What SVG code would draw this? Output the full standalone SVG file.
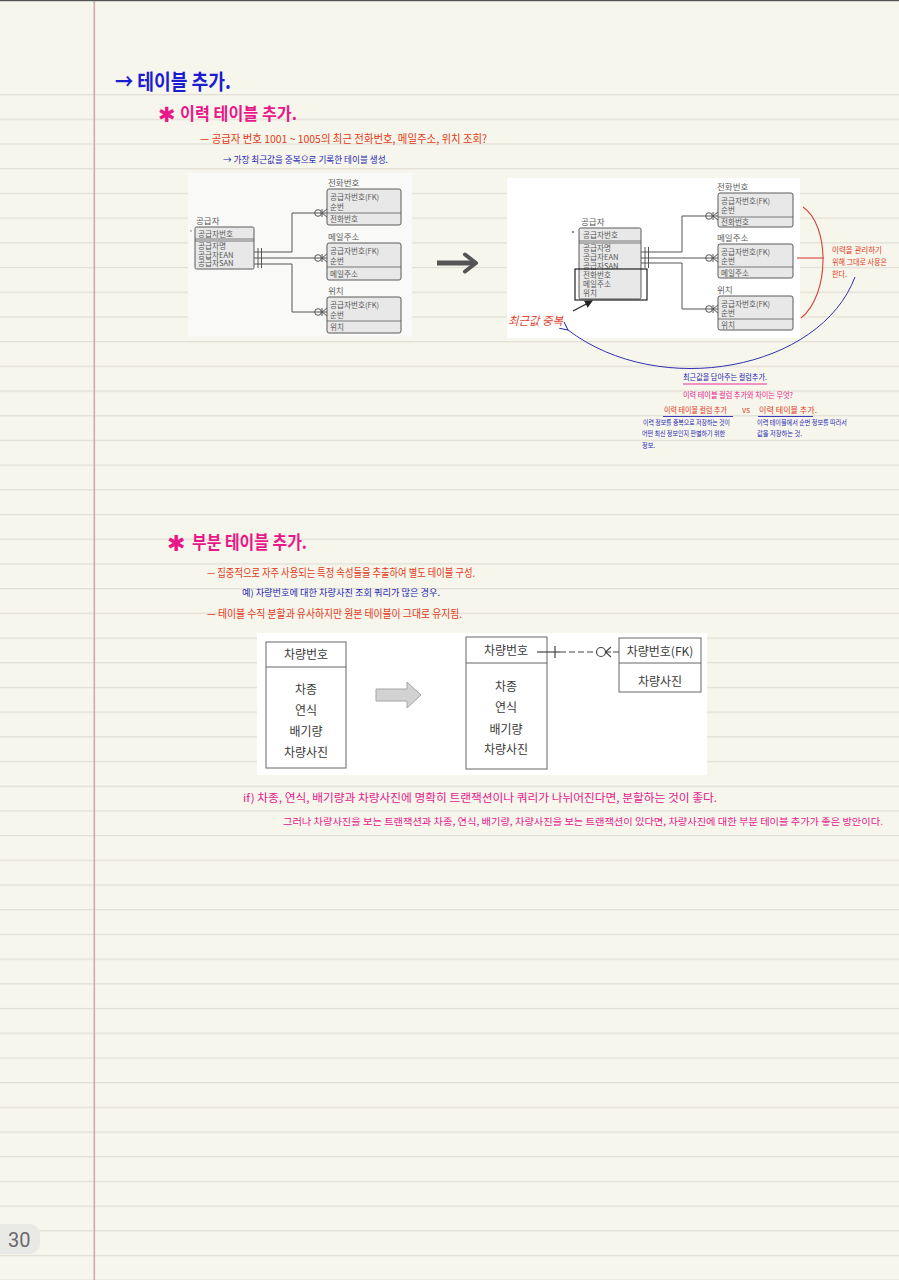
<svg xmlns="http://www.w3.org/2000/svg" xmlns:xlink="http://www.w3.org/1999/xlink" width="899" height="1280" viewBox="0 0 899 1280">
<style>
.hw{font-family:"Noto Sans CJK KR","Noto Sans",sans-serif;}
.hb{fill:#1c1cd2;font-weight:700;}
.hm{fill:#e8188a;font-weight:700;}
.red{fill:#e23a20;}
.blu{fill:#2626b4;}
.pnk{fill:#e4208c;}
.er{font-family:"Noto Sans CJK KR","Liberation Sans",sans-serif;font-size:8.5px;fill:#5a5a5a;}
.ea{font-size:7.6px;}
.erbox{fill:#e8e8e8;stroke:#5a5a5a;stroke-width:1;}
.erl{fill:none;stroke:#555;stroke-width:1;}
.vt{font-family:"Noto Sans CJK KR","Liberation Sans",sans-serif;font-size:12px;fill:#3a3a3a;text-anchor:middle;}
.vbox{fill:#fff;stroke:#666;stroke-width:1;}
.ast{font-family:"DejaVu Sans",sans-serif;fill:#e8188a;font-weight:700;}
</style>
<defs>
<pattern id="rules" x="0" y="94" width="899" height="24.7" patternUnits="userSpaceOnUse">
<rect x="0" y="0" width="899" height="1.3" fill="#e2e0d6"/>
</pattern>
<g id="cf" fill="none" stroke="#555" stroke-width="1">
<circle cx="-9" cy="0" r="3.3"/>
<path d="M-5,-4 V4 M-5,0 L0,-4 M-5,0 L0,4"/>
</g>
<marker id="barr" markerWidth="10" markerHeight="10" refX="1" refY="5" orient="auto-start-reverse" markerUnits="userSpaceOnUse">
<path d="M9,1 L1,5 L9,9" fill="none" stroke="#3030b0" stroke-width="1"/>
</marker>
<marker id="karr" markerWidth="8" markerHeight="8" refX="7" refY="4" orient="auto" markerUnits="userSpaceOnUse">
<path d="M0,0 L8,4 L0,8 z" fill="#222"/>
</marker>
</defs>

<!-- page -->
<rect width="899" height="1280" fill="#f7f6ec"/>
<rect x="0" y="90" width="899" height="1190" fill="url(#rules)"/>
<rect x="93.5" y="0" width="1.6" height="1280" fill="#d6a8aa"/>
<rect x="0" y="0" width="899" height="1.2" fill="#555"/>

<!-- section 1 headings -->
<g id="heading1">
<text class="hw hb" x="115" y="89" font-size="21" textLength="116" lengthAdjust="spacingAndGlyphs">→ 테이블 추가.</text>
</g>
<g id="heading-history">
<text class="ast" x="158" y="122" font-size="21">✱</text>
<text class="hw hm" x="180" y="120" font-size="17" textLength="117" lengthAdjust="spacingAndGlyphs">이력 테이블 추가.</text>
<text class="hw red" x="200" y="143" font-size="11" textLength="287" lengthAdjust="spacingAndGlyphs">— 공급자 번호 1001 ~ 1005의 최근 전화번호, 메일주소, 위치 조회?</text>
<text class="hw blu" x="223" y="163" font-size="9" textLength="165" lengthAdjust="spacingAndGlyphs">→ 가장 최근값을 중복으로 기록한 테이블 생성.</text>
</g>

<!-- left ER diagram -->
<g id="er-left">
<rect x="188" y="173" width="224" height="164" fill="#f9f9f8"/>
<circle cx="191" cy="231" r="0.8" fill="#777"/>
<g id="supplier-left">
<text class="er" x="196" y="224" font-size="9">공급자</text>
<rect class="erbox" x="195" y="227" width="59" height="42" rx="1.5"/>
<path d="M195,239 H254 M195,241 H254" stroke="#5a5a5a" stroke-width="0.8"/>
<text class="er ea" x="198" y="237">공급자번호</text>
<text class="er ea" x="198" y="249">공급자명</text>
<text class="er ea" x="198" y="257.5">공급자EAN</text>
<text class="er ea" x="198" y="266">공급자SAN</text>
</g>
<g id="phone-left">
<text class="er" x="328" y="186" font-size="9">전화번호</text>
<rect class="erbox" x="327" y="189" width="74" height="36" rx="2"/>
<path d="M327,213 H401" stroke="#5a5a5a" stroke-width="0.8"/>
<text class="er ea" x="330" y="200">공급자번호(FK)</text>
<text class="er ea" x="330" y="210">순번</text>
<text class="er ea" x="330" y="222">전화번호</text>
</g>
<g id="mail-left">
<text class="er" x="328" y="240" font-size="9">메일주소</text>
<rect class="erbox" x="327" y="243" width="74" height="37" rx="2"/>
<path d="M327,267 H401" stroke="#5a5a5a" stroke-width="0.8"/>
<text class="er ea" x="330" y="254">공급자번호(FK)</text>
<text class="er ea" x="330" y="264">순번</text>
<text class="er ea" x="330" y="277">메일주소</text>
</g>
<g id="loc-left">
<text class="er" x="328" y="294" font-size="9">위치</text>
<rect class="erbox" x="327" y="297" width="74" height="36" rx="2"/>
<path d="M327,321 H401" stroke="#5a5a5a" stroke-width="0.8"/>
<text class="er ea" x="330" y="308">공급자번호(FK)</text>
<text class="er ea" x="330" y="318">순번</text>
<text class="er ea" x="330" y="330">위치</text>
</g>
</g>

<!-- right ER diagram -->
<g id="er-right">
<rect x="507" y="178" width="293" height="160" fill="#ffffff"/>
<circle cx="573" cy="232" r="0.9" fill="#555"/>
<g id="supplier-right">
<text class="er" x="581" y="225" font-size="9">공급자</text>
<rect class="erbox" x="579" y="228" width="62" height="71" rx="1.5"/>
<path d="M579,241 H641 M579,243 H641" stroke="#5a5a5a" stroke-width="0.8"/>
<text class="er ea" x="583" y="238">공급자번호</text>
<text class="er ea" x="583" y="251">공급자명</text>
<text class="er ea" x="583" y="260">공급자EAN</text>
<text class="er ea" x="583" y="269">공급자SAN</text>
<text class="er ea" x="583" y="278">전화번호</text>
<text class="er ea" x="583" y="287">메일주소</text>
<text class="er ea" x="583" y="296">위치</text>
<rect x="575" y="269" width="72" height="31" fill="none" stroke="#222" stroke-width="1.2"/>
</g>
<g id="phone-right">
<text class="er" x="717" y="190" font-size="9">전화번호</text>
<rect class="erbox" x="718" y="193" width="75" height="34" rx="2"/>
<path d="M718,217 H793" stroke="#5a5a5a" stroke-width="0.8"/>
<text class="er ea" x="721" y="203.5">공급자번호(FK)</text>
<text class="er ea" x="721" y="213">순번</text>
<text class="er ea" x="721" y="224.5">전화번호</text>
</g>
<g id="mail-right">
<text class="er" x="717" y="241" font-size="9">메일주소</text>
<rect class="erbox" x="718" y="244" width="75" height="34" rx="2"/>
<path d="M718,267 H793" stroke="#5a5a5a" stroke-width="0.8"/>
<text class="er ea" x="721" y="254.5">공급자번호(FK)</text>
<text class="er ea" x="721" y="264">순번</text>
<text class="er ea" x="721" y="275.5">메일주소</text>
</g>
<g id="loc-right">
<text class="er" x="717" y="293" font-size="9">위치</text>
<rect class="erbox" x="718" y="296" width="75" height="34" rx="2"/>
<path d="M718,319 H793" stroke="#5a5a5a" stroke-width="0.8"/>
<text class="er ea" x="721" y="306.5">공급자번호(FK)</text>
<text class="er ea" x="721" y="316">순번</text>
<text class="er ea" x="721" y="327.5">위치</text>
</g>
<g id="label-recent">
<text class="hw" x="508" y="325" font-size="11.5" font-style="italic" fill="#e04432" textLength="55" lengthAdjust="spacingAndGlyphs">최근값 중복</text>
</g>
</g>

<!-- annotations -->
<g id="note-right">
<text class="hw red" x="832" y="253" font-size="7.5" textLength="50" lengthAdjust="spacingAndGlyphs">이력을 관리하기</text>
<text class="hw red" x="832" y="264.5" font-size="7.5" textLength="55" lengthAdjust="spacingAndGlyphs">위해 그대로 사용은</text>
<text class="hw red" x="832" y="277" font-size="7.5" textLength="15" lengthAdjust="spacingAndGlyphs">한다.</text>
</g>
<g id="note-below">
<text class="hw blu" x="683" y="380" font-size="8" textLength="84" lengthAdjust="spacingAndGlyphs">최근값을 담아주는 컬럼추가.</text>
<text class="hw" x="683" y="398" font-size="7.5" fill="#e8188a" textLength="110" lengthAdjust="spacingAndGlyphs">이력 테이블 컬럼 추가와 차이는 무엇?</text>
<text class="hw red" x="664" y="413" font-size="8" textLength="63" lengthAdjust="spacingAndGlyphs">이력 테이블 컬럼 추가</text>
<text class="hw red" x="742" y="413" font-size="7.5" textLength="8" lengthAdjust="spacingAndGlyphs">vs</text>
<text class="hw red" x="759" y="413" font-size="8" textLength="58" lengthAdjust="spacingAndGlyphs">이력 테이블 추가.</text>
<text class="hw blu" x="643" y="425" font-size="6.5" textLength="87" lengthAdjust="spacingAndGlyphs">이력 정보를 중복으로 저장하는 것이</text>
<text class="hw blu" x="642" y="436" font-size="6.5" textLength="83" lengthAdjust="spacingAndGlyphs">어떤 최신 정보인지 판별하기 위한</text>
<text class="hw blu" x="642" y="448" font-size="6.5" textLength="13" lengthAdjust="spacingAndGlyphs">정보.</text>
<text class="hw blu" x="757" y="425" font-size="6.5" textLength="90" lengthAdjust="spacingAndGlyphs">이력 테이블에서 순번 정보를 따라서</text>
<text class="hw blu" x="757" y="436" font-size="6.5" textLength="45" lengthAdjust="spacingAndGlyphs">값을 저장하는 것.</text>
</g>

<!-- section 2 -->
<g id="heading-partial">
<text class="ast" x="167" y="551" font-size="22">✱</text>
<text class="hw hm" x="192" y="549" font-size="18" textLength="115" lengthAdjust="spacingAndGlyphs">부분 테이블 추가.</text>
<text class="hw red" x="207" y="577" font-size="11" textLength="268" lengthAdjust="spacingAndGlyphs">— 집중적으로 자주 사용되는 특정 속성들을 추출하여 별도 테이블 구성.</text>
<text class="hw blu" x="242" y="596" font-size="9" textLength="198" lengthAdjust="spacingAndGlyphs">예) 차량번호에 대한 차량사진 조회 쿼리가 많은 경우.</text>
<text class="hw red" x="207" y="618" font-size="11" textLength="255" lengthAdjust="spacingAndGlyphs">— 테이블 수직 분할과 유사하지만 원본 테이블이 그대로 유지됨.</text>
</g>

<!-- vehicle diagram -->
<g id="vehicle-diagram">
<rect x="257" y="633" width="450" height="142" fill="#ffffff"/>
<g id="car-original">
<rect class="vbox" x="266" y="642" width="80" height="126"/>
<path d="M266,667 H346" stroke="#666" stroke-width="1"/>
<text class="vt" x="306" y="659">차량번호</text>
<text class="vt" x="306" y="694">차종</text>
<text class="vt" x="306" y="715">연식</text>
<text class="vt" x="306" y="736">배기량</text>
<text class="vt" x="306" y="757">차량사진</text>
</g>
<g id="split-arrow">
<polygon points="376,689 407,689 407,682 421,695 407,708 407,701 376,701" fill="#d2d2d2" stroke="#a5a5a5" stroke-width="1"/>
</g>
<g id="car-main">
<rect class="vbox" x="466" y="637" width="81" height="132"/>
<path d="M466,663 H547" stroke="#666" stroke-width="1"/>
<text class="vt" x="506" y="655">차량번호</text>
<text class="vt" x="506" y="691">차종</text>
<text class="vt" x="506" y="712">연식</text>
<text class="vt" x="506" y="734">배기량</text>
<text class="vt" x="506" y="754">차량사진</text>
</g>
<g id="car-photo">
<rect class="vbox" x="619" y="638" width="82" height="54"/>
<path d="M619,663 H701" stroke="#666" stroke-width="1"/>
<text class="vt" x="660" y="656">차량번호(FK)</text>
<text class="vt" x="660" y="686">차량사진</text>
</g>
</g>

<!-- connectors -->
<g id="connectors">
<g class="erl">
<path class="erl" d="M254,252 H292 V213 H327"/>
<path class="erl" d="M254,258 H327"/>
<path class="erl" d="M254,264 H292 V312 H327"/>
<path class="erl" d="M258,248 V268 M261.5,248 V268"/>
<use xlink:href="#cf" href="#cf" transform="translate(327,213)"/>
<use xlink:href="#cf" href="#cf" transform="translate(327,258)"/>
<use xlink:href="#cf" href="#cf" transform="translate(327,312)"/>
<path class="erl" d="M641,252 H682 V216 H718"/>
<path class="erl" d="M641,258 H718"/>
<path class="erl" d="M641,263 H682 V309 H718"/>
<path class="erl" d="M645,247 V268 M648.5,247 V268"/>
<use xlink:href="#cf" href="#cf" transform="translate(718,216)"/>
<use xlink:href="#cf" href="#cf" transform="translate(718,258)"/>
<use xlink:href="#cf" href="#cf" transform="translate(718,309)"/>
</g>
<path d="M573,311 L592,301" stroke="#222" stroke-width="1.2" fill="none" marker-end="url(#karr)"/>
<path d="M437,263 H473" stroke="#555" stroke-width="5" fill="none"/>
<path d="M465,254.5 L476,263 L465,271.5" stroke="#555" stroke-width="4" fill="none" stroke-linecap="round" stroke-linejoin="round"/>
<path d="M803,207 C830,225 830,295 801,318" stroke="#d9443a" stroke-width="1.1" fill="none"/>
<path d="M797,258 H824" stroke="#d9443a" stroke-width="1.1"/>
<path d="M855,277 C820,370 660,400 568,330" stroke="#3030b0" stroke-width="1" fill="none" marker-end="url(#barr)"/>
<path d="M683,384 H767" stroke="#e8188a" stroke-width="0.9"/>
<path d="M663,416.5 H733 M758,416.5 H813" stroke="#2626b4" stroke-width="0.9"/>
<path d="M537,652 H560" stroke="#444" stroke-width="1.2"/>
<path d="M555,646 V658" stroke="#444" stroke-width="1.2"/>
<path d="M560,652 H596" stroke="#444" stroke-width="1.2" stroke-dasharray="6,3"/>
<circle cx="601" cy="652" r="4.5" fill="none" stroke="#444" stroke-width="1.2"/>
<path d="M605.5,652 L611,647 M605.5,652 L611,657 M605.5,652 H611 M613,652 H619" stroke="#444" stroke-width="1.1" fill="none"/>
</g>

<!-- bottom notes -->
<g id="note-if">
<text class="hw pnk" x="243" y="802" font-size="11" textLength="474" lengthAdjust="spacingAndGlyphs">if) 차종, 연식, 배기량과 차량사진에 명확히 트랜잭션이나 쿼리가 나뉘어진다면, 분할하는 것이 좋다.</text>
<text class="hw pnk" x="283" y="825" font-size="9.5" textLength="600" lengthAdjust="spacingAndGlyphs">그러나 차량사진을 보는 트랜잭션과 차종, 연식, 배기량, 차량사진을 보는 트랜잭션이 있다면, 차량사진에 대한 부분 테이블 추가가 좋은 방안이다.</text>
</g>

<!-- page number -->
<g id="page-number">
<rect x="-12" y="1224" width="52" height="30" rx="11" fill="#e9e9e6"/>
<text x="8" y="1247" font-family="Roboto,'Liberation Sans',sans-serif" font-size="20" fill="#6a6a6a">30</text>
</g>
</svg>
